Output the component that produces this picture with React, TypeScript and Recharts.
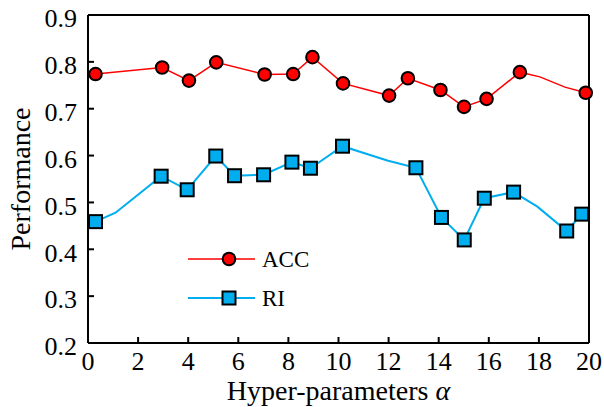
import React from 'react';
import { LineChart, Line, XAxis, YAxis, Legend, Label } from 'recharts';

const xTicks = [0, 2, 4, 6, 8, 10, 12, 14, 16, 18, 20];
const yTicks = [0.2, 0.3, 0.4, 0.5, 0.6, 0.7, 0.8, 0.9];

const seriesNames = ['ACC', 'RI'];
const xLabel = 'Hyper-parameters ';
const xLabelSymbol = 'α';
const yLabel = 'Performance';

// ACC: marked points and unmarked bend points
const accMarkX = [0.3, 2.96, 4.03, 5.12, 7.05, 8.19, 8.96, 10.18, 12.02, 12.77, 14.07, 15.01, 15.91, 17.24, 19.87];
const accMarkY = [0.774, 0.788, 0.76, 0.799, 0.773, 0.774, 0.81, 0.754, 0.728, 0.765, 0.74, 0.704, 0.721, 0.778, 0.734];
const accBendX = [18.04, 19.04];
const accBendY = [0.768, 0.746];

// RI
const riMarkX = [0.3, 2.92, 3.96, 5.1, 5.85, 7.01, 8.14, 8.88, 10.16, 13.09, 14.11, 15.02, 15.82, 16.99, 19.11, 19.71];
const riMarkY = [0.459, 0.556, 0.527, 0.599, 0.557, 0.559, 0.586, 0.573, 0.62, 0.574, 0.468, 0.42, 0.509, 0.522, 0.439, 0.475];
const riBendX = [1.1, 11.98, 17.94];
const riBendY = [0.478, 0.589, 0.491];

type Pt = { x: number; y: number; m: boolean };
const build = (mx: number[], my: number[], bx: number[], by: number[]): Pt[] => {
  const pts: Pt[] = [];
  mx.forEach((x, i) => pts.push({ x, y: my[i], m: true }));
  bx.forEach((x, i) => pts.push({ x, y: by[i], m: false }));
  return pts.sort((a, b) => a.x - b.x);
};

const accData = build(accMarkX, accMarkY, accBendX, accBendY);
const riData = build(riMarkX, riMarkY, riBendX, riBendY);

const RED = '#ff0000';
const CYAN = '#00aeef';
const FONT = "'Liberation Serif', 'Times New Roman', Times, serif";

const circleDot = (p: any) => {
  if (!p.payload || !p.payload.m) return <g key={`c${p.index}`} />;
  return <circle key={`c${p.index}`} cx={p.cx} cy={p.cy} r={6.3} fill={RED} stroke="#000" strokeWidth={2} />;
};
const squareDot = (p: any) => {
  if (!p.payload || !p.payload.m) return <g key={`s${p.index}`} />;
  const h = 6.5;
  return (
    <rect key={`s${p.index}`} x={p.cx - h} y={p.cy - h} width={2 * h} height={2 * h} fill={CYAN} stroke="#000" strokeWidth={2} />
  );
};

const xTickStyle = { fontSize: 26, fill: '#000', fontFamily: FONT, style: { fontFamily: FONT } };
const yTickStyle = { fontSize: 26, fill: '#000', fontFamily: FONT, dy: 3, style: { fontFamily: FONT } };
const axisLine = { stroke: '#000', strokeWidth: 2 };
const tickLine = { stroke: '#000', strokeWidth: 2 };

const LegendBox = () => (
  <svg width={160} height={80} style={{ display: 'block' }}>
    <line x1={8} y1={19} x2={75} y2={19} stroke={RED} strokeWidth={1.5} />
    <circle cx={49} cy={19} r={6.3} fill={RED} stroke="#000" strokeWidth={2} />
    <text x={82} y={27} fontSize={23} style={{ fontFamily: FONT }} fill="#000">{seriesNames[0]}</text>
    <line x1={8} y1={58} x2={75} y2={58} stroke={CYAN} strokeWidth={2} />
    <rect x={42.5} y={51.5} width={13} height={13} fill={CYAN} stroke="#000" strokeWidth={2} />
    <text x={82} y={66} fontSize={23} style={{ fontFamily: FONT }} fill="#000">{seriesNames[1]}</text>
  </svg>
);

export default function App() {
  return (
    <div style={{ position: 'absolute', left: 0, top: 0, fontFamily: FONT }}>
      <LineChart width={604} height={407} margin={{ top: 0, right: 0, bottom: 0, left: 0 }} style={{ fontFamily: FONT }}>
        <XAxis
          xAxisId="bottom"
          dataKey="x"
          type="number"
          domain={[0, 20]}
          ticks={xTicks}
          interval={0}
          height={64}
          tickSize={-6}
          tickMargin={15}
          tick={xTickStyle}
          axisLine={axisLine}
          tickLine={tickLine}
        >
          <Label
            content={(props: any) => {
              const vb = props.viewBox || {};
              const cx = vb.x + vb.width / 2;
              return (
                <text x={cx} y={vb.y + 57} textAnchor="middle" fontSize={28} style={{ fontFamily: FONT }} fill="#000">
                  {xLabel}
                  <tspan fontStyle="italic">{xLabelSymbol}</tspan>
                </text>
              );
            }}
          />
        </XAxis>
        <XAxis
          xAxisId="top"
          orientation="top"
          dataKey="x"
          type="number"
          domain={[0, 20]}
          ticks={xTicks}
          interval={0}
          height={15}
          tickSize={-6}
          tick={false}
          axisLine={axisLine}
          tickLine={tickLine}
        />
        <YAxis
          yAxisId="left"
          type="number"
          domain={[0.2, 0.9]}
          ticks={yTicks}
          interval={0}
          width={88}
          tickSize={-6}
          tickMargin={17}
          tick={yTickStyle}
          tickFormatter={(v: number) => v.toFixed(1)}
          axisLine={axisLine}
          tickLine={tickLine}
        >
          <Label
            content={(props: any) => {
              const vb = props.viewBox || {};
              const cy = vb.y + vb.height / 2;
              const x = vb.x + 30;
              return (
                <text x={x} y={cy} transform={`rotate(-90 ${x} ${cy})`} textAnchor="middle" fontSize={28} style={{ fontFamily: FONT }} fill="#000">
                  {yLabel}
                </text>
              );
            }}
          />
        </YAxis>
        <YAxis
          yAxisId="right"
          orientation="right"
          type="number"
          domain={[0.2, 0.9]}
          ticks={yTicks}
          interval={0}
          width={15}
          tickSize={-6}
          tick={false}
          axisLine={axisLine}
          tickLine={tickLine}
        />
        <Line
          xAxisId="bottom"
          yAxisId="left"
          data={accData}
          dataKey="y"
          name={seriesNames[0]}
          type="linear"
          stroke={RED}
          strokeWidth={1.5}
          dot={circleDot}
          activeDot={false}
          isAnimationActive={false}
        />
        <Line
          xAxisId="bottom"
          yAxisId="left"
          data={riData}
          dataKey="y"
          name={seriesNames[1]}
          type="linear"
          stroke={CYAN}
          strokeWidth={2}
          dot={squareDot}
          activeDot={false}
          isAnimationActive={false}
        />
        <Legend
          layout="vertical"
          align="center"
          verticalAlign="middle"
          wrapperStyle={{ left: 180, top: 240, width: 160, height: 80 }}
          content={() => <LegendBox />}
        />
      </LineChart>
    </div>
  );
}
